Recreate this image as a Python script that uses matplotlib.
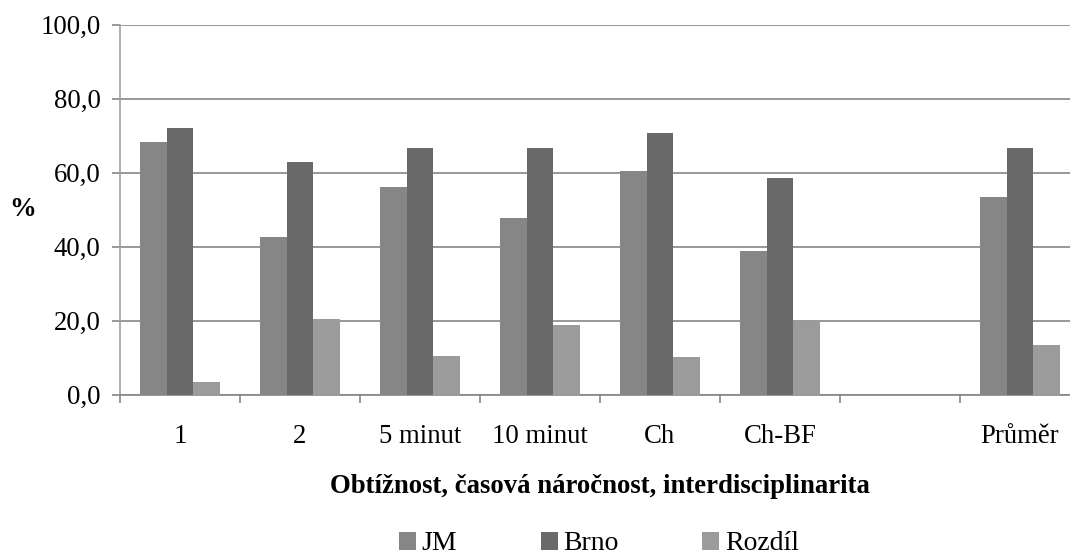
import numpy as np
import matplotlib
matplotlib.use("Agg")
import matplotlib.pyplot as plt
from matplotlib.patches import Patch

categories = ["1", "2", "5 minut", "10 minut", "Ch", "Ch-BF", "", "Průměr"]
jm = [68.2, 42.6, 56.1, 47.7, 60.4, 38.8, np.nan, 53.4]
brno = [72.0, 62.8, 66.6, 66.6, 70.6, 58.5, np.nan, 66.6]
rozdil = [3.5, 20.5, 10.5, 18.9, 10.2, 19.7, np.nan, 13.4]
series_names = ["JM", "Brno", "Rozdíl"]
colors = ["#868686", "#696969", "#9b9b9b"]
y_ticks = [0, 20, 40, 60, 80, 100]
y_ticklabels = ["0,0", "20,0", "40,0", "60,0", "80,0", "100,0"]

plt.rcParams['font.family'] = ['Liberation Serif', 'DejaVu Serif']

W, H = 1070, 556
FS = 19.3
fig = plt.figure(figsize=(W / 100, H / 100), dpi=100)
ax = fig.add_axes([120 / W, (H - 394.5) / H, 960 / W, (394.5 - 24.8) / H])

x = np.arange(len(categories))
bw = 80 / 120 / 3
for i, (vals, c, name) in enumerate(zip([jm, brno, rozdil], colors, series_names)):
    ax.bar(x + (i - 1) * bw, vals, width=bw, color=c, label=name, zorder=3)

ax.set_xlim(-0.5, len(categories) - 0.5)
ax.set_ylim(0, 100)
ax.set_yticks(y_ticks)
ax.set_yticklabels(y_ticklabels, fontsize=FS)
ax.yaxis.grid(True, color="#868686", linewidth=1.2, zorder=0)
ax.set_axisbelow(True)

ax.set_xticks(x)
ax.set_xticklabels(categories, fontsize=FS)
ax.set_xticks(np.arange(len(categories) + 1) - 0.5, minor=True)
ax.tick_params(axis="x", which="major", length=0, pad=21)
ax.tick_params(axis="x", which="minor", length=6, width=1.2, color="#868686", direction="out")
ax.tick_params(axis="y", length=6, width=1.2, color="#868686", direction="out", pad=8)

for s in ["top", "right"]:
    ax.spines[s].set_visible(False)
ax.spines["left"].set_color("#a0a0a0")
ax.spines["bottom"].set_color("#868686")
ax.spines["left"].set_linewidth(1.2)
ax.spines["bottom"].set_linewidth(1.2)

fig.text(22.5 / W, 1 - 210 / H, "%", fontsize=FS, fontweight="bold", ha="center", va="center")
fig.text(600 / W, 1 - 493 / H, "Obtížnost, časová náročnost, interdisciplinarita",
         fontsize=FS, fontweight="bold", ha="center", va="baseline")

handles = [Patch(facecolor=c, edgecolor="none") for c in colors]
leg = fig.legend(handles, series_names, loc="center", bbox_to_anchor=(599 / W, 1 - 544 / H),
                 ncol=3, frameon=False, fontsize=20, handlelength=0.62, handleheight=0.62,
                 handletextpad=0.2, columnspacing=3.0, borderpad=0, borderaxespad=0)

fig.savefig("out.png", dpi=100)
